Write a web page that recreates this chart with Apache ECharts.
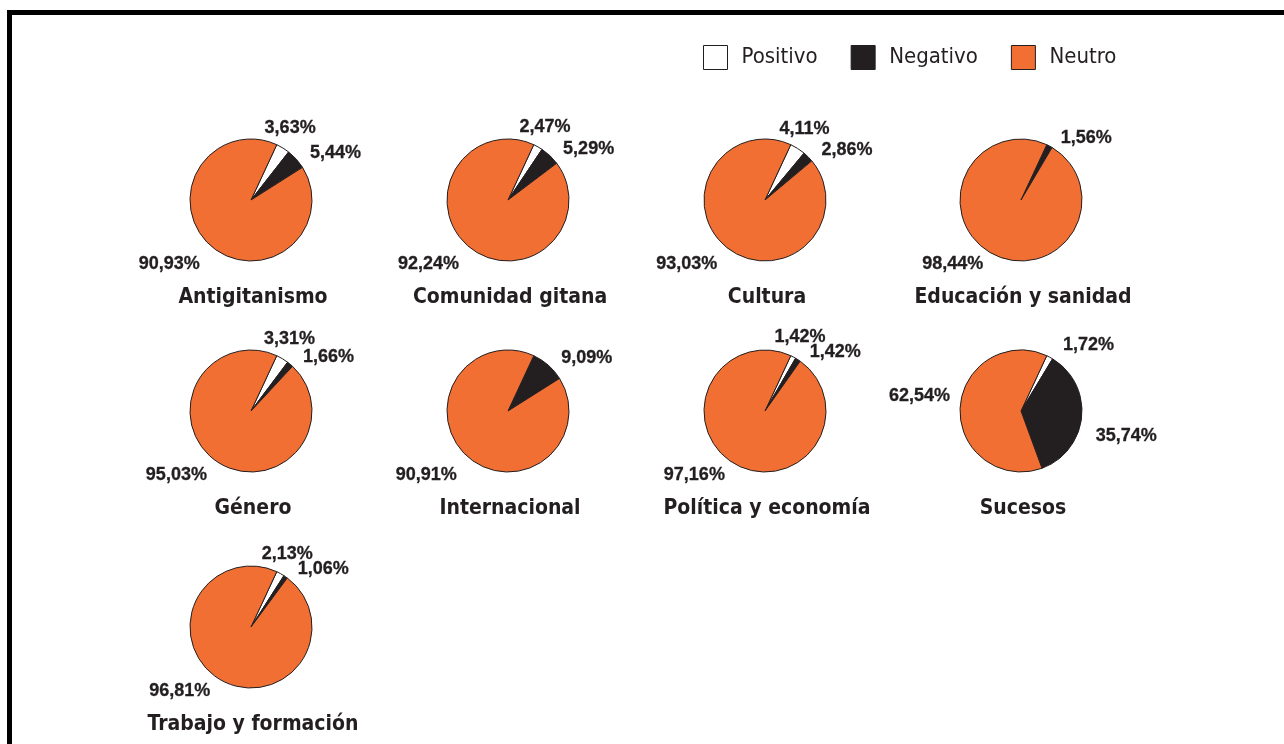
<!DOCTYPE html>
<html>
<head>
<meta charset="utf-8">
<script src="https://cdn.jsdelivr.net/npm/echarts@6/dist/echarts.min.js"></script>
<style>
  html, body { margin: 0; padding: 0; background: #fff; }
  #chart { width: 1284px; height: 744px; }
  #frame {
    position: absolute; left: 7px; top: 10px; width: 1290px; height: 760px;
    border-top: 5px solid #000; border-left: 5px solid #000; pointer-events: none;
  }
</style>
</head>
<body>
<div id="chart"></div>
<div id="frame"></div>
<script>
// chart data
let categories = ['Antigitanismo', 'Comunidad gitana', 'Cultura', 'Educación y sanidad',
  'Género', 'Internacional', 'Política y economía', 'Sucesos', 'Trabajo y formación'];
let legendNames = ['Positivo', 'Negativo', 'Neutro'];
let positivo = [3.63, 2.47, 4.11, 0, 3.31, 0, 1.42, 1.72, 2.13];
let negativo = [5.44, 5.29, 2.86, 1.56, 1.66, 9.09, 1.42, 35.74, 1.06];
let neutro = [90.93, 92.24, 93.03, 98.44, 95.03, 90.91, 97.16, 62.54, 96.81];

let colors = ['#ffffff', '#231f20', '#f26f33'];
let dark = '#231f20';
let colX = [251, 508, 765, 1021];
let rowY = [200, 411, 627];
let condensed = 'DejaVu Sans Condensed, Liberation Sans Narrow, sans-serif';

var dom = document.getElementById('chart');
var myChart = echarts.init(dom);

// nudge labels like the hand placed ones: the small white slice label
// sits above the black one, the big orange label under the pie
function nudge(name, i, cy) {
  let bigNeg = negativo[i] > 20;
  if (name === 'Positivo') return bigNeg ? { dx: 4, dy: -4 } : { dx: -28, dy: -12 };
  if (name === 'Negativo') return bigNeg ? { dx: 0, dy: 18 } : { dx: 2, dy: 0 };
  return bigNeg ? { dx: 4, dy: -12 } : { y: cy + 64 };
}

let series = [];
let titles = [];
for (let i = 0; i < categories.length; i++) {
  let cx = colX[i % 4];
  let cy = rowY[Math.floor(i / 4)];
  let vals = [positivo[i], negativo[i], neutro[i]];
  let data = [];
  for (let k = 0; k < 3; k++) {
    if (vals[k] > 0) {
      data.push({ name: legendNames[k], value: vals[k], itemStyle: { color: colors[k] } });
    }
  }
  series.push({
    type: 'pie',
    name: categories[i],
    center: [cx, cy],
    radius: 61,
    startAngle: 65,
    clockwise: true,
    silent: true,
    animation: false,
    avoidLabelOverlap: false,
    itemStyle: { borderColor: dark, borderWidth: 1 },
    label: {
      show: true,
      position: 'outside',
      formatter: p => p.value.toFixed(2).replace('.', ',') + '%',
      fontFamily: 'Liberation Sans, Arial, sans-serif',
      fontWeight: 'bold',
      fontSize: 18,
      color: dark,
      textBorderColor: dark,
      textBorderWidth: 0.3
    },
    labelLine: { show: false, length: 9, length2: 0 },
    labelLayout: params => nudge(data[params.dataIndex].name, i, cy),
    data: data
  });
  titles.push({
    text: categories[i],
    left: cx + 2,
    top: cy + 87,
    textAlign: 'center',
    padding: 0,
    textStyle: {
      fontFamily: condensed,
      fontWeight: 'bold',
      fontSize: 21,
      color: dark
    }
  });
}

var option = {
  backgroundColor: '#fff',
  title: titles,
  legend: {
    left: 703,
    top: 45,
    padding: 0,
    itemWidth: 24,
    itemHeight: 24,
    itemGap: 33,
    selectedMode: false,
    textStyle: {
      fontFamily: condensed,
      fontSize: 22,
      color: dark,
      padding: [0, 0, 0, 9]
    },
    data: legendNames.map((n, k) => ({
      name: n,
      icon: 'rect',
      itemStyle: { color: colors[k], borderColor: dark, borderWidth: 1 }
    }))
  },
  series: series
};

myChart.setOption(option);
</script>
</body>
</html>
